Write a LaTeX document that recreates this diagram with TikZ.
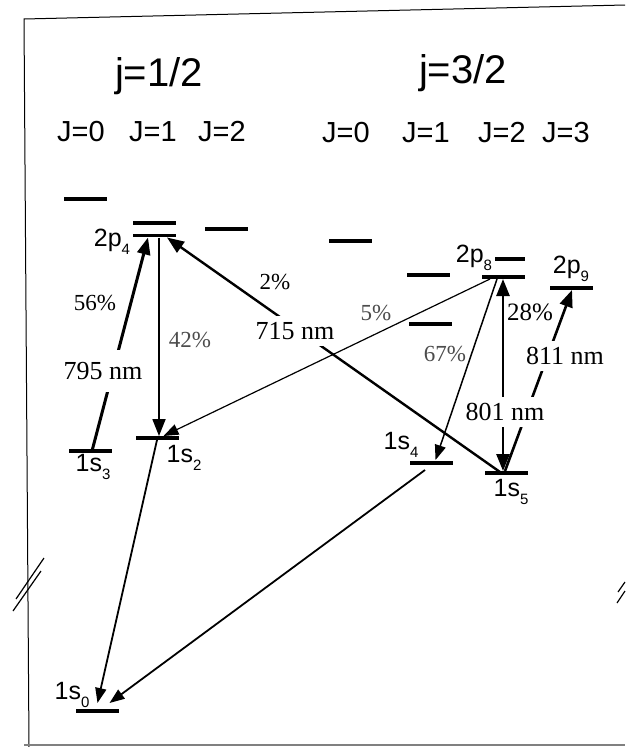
\documentclass[tikz,border=0pt]{standalone}
\usepackage{fontspec}
\setmainfont{Liberation Serif}
\setsansfont{Liberation Sans}
\usetikzlibrary{arrows.meta,calc}
\newcommand\lsub[1]{\raisebox{-0.3em}{\fontsize{15}{15}\selectfont #1}}
\begin{document}
\begin{tikzpicture}[x=1pt,y=-1pt,
  lvl/.style={fill=black, minimum width=43pt, minimum height=3.5pt, inner sep=0pt, outer sep=0pt},
  lbl/.style={font=\sffamily\fontsize{25}{25}\selectfont, inner sep=1pt},
  wl/.style={font=\rmfamily\fontsize{26}{26}\selectfont, fill=white, inner xsep=2pt, inner ysep=6pt},
  pct/.style={font=\rmfamily\fontsize{23}{23}\selectfont, inner sep=1pt},
  hd/.style={font=\sffamily\fontsize{40}{40}\selectfont, anchor=base},
  jl/.style={font=\sffamily\fontsize{29}{29}\selectfont, anchor=base},
  tr/.style={-{Triangle[length=17pt,width=13pt]}},
  trs/.style={-{Triangle[length=15pt,width=11pt]}}]
\useasboundingbox (0,0) rectangle (625,747);
% frame
\draw[line width=1pt] (29,747) -- (24,19) -- (625,5);
\draw[black!50, line width=1.5pt] (24,745) -- (625,745);
\draw[line width=1.2pt] (13,611) -- (41,571) (16,599) -- (44,558);
\draw[line width=1.2pt] (617,603) -- (625,591) (618,592) -- (625,582);
% headings
\node[hd] (h1) at (159,86) {j=1/2};
\node[hd] (h2) at (463,83) {j=3/2};
\node[jl] (a0) at (81,141) {J=0};
\node[jl] (a1) at (153,141) {J=1};
\node[jl] (a2) at (222,141) {J=2};
\node[jl] (b0) at (346,142) {J=0};
\node[jl] (b1) at (426,142) {J=1};
\node[jl] (b2) at (502,142) {J=2};
\node[jl] (b3) at (566,142) {J=3};
% levels
\node[lvl] (A) at (85,199) {};
\node[lvl] (B) at (154.5,223) {};
\node[lvl] (p4) at (154.5,235.5) {};
\node[lvl] (C) at (226,229) {};
\node[lvl] (D) at (350,241) {};
\node[lvl] (E) at (428.5,275) {};
\node[lvl, minimum width=30pt] (F) at (510,259) {};
\node[lvl] (p8) at (503.5,277) {};
\node[lvl] (p9) at (571,288) {};
\node[lvl] (G) at (430,324) {};
\node[lvl] (s4) at (431.5,463) {};
\node[lvl] (s5) at (506,473) {};
\node[lvl] (s3) at (90,451) {};
\node[lvl] (s2) at (157.5,438) {};
\node[lvl] (s0) at (97.5,711) {};
% transitions
\draw[tr, line width=3pt] ($(s3)+(2,0)$) -- ($(p4)+(-6.5,2)$);
\draw[tr, line width=1.8pt] ($(p4)+(4.5,2)$) -- ($(s2)+(1.5,-2)$);
\draw[tr, line width=2.4pt] ($(s5)+(-6,-1)$) -- ($(p4)+(12.5,2)$);
\draw[trs, line width=1.2pt] ($(p8)+(-13.5,2)$) -- ($(s2)+(6,-2)$);
\draw[trs, line width=1.5pt] ($(p8)+(-6.5,2)$) -- ($(s4)+(4,-3)$);
\draw[{Triangle[length=17pt,width=13pt]}-{Triangle[length=17pt,width=13pt]}, line width=2.6pt] ($(s5)+(-3,-2)$) -- ($(p8)+(-0.5,2)$);
\draw[tr, line width=2.6pt] ($(s5)+(-1,-2)$) -- ($(p9)+(1,2)$);
\draw[trs, line width=1.8pt] ($(s2)+(-0.5,2)$) -- ($(s0)+(0,-8)$);
\draw[trs, line width=1.8pt] ($(s4)+(-6.5,7)$) -- ($(s0)+(12,-8)$);
% wavelength labels
\node[wl, inner ysep=12pt] (l795) at (103,371) {795 nm};
\node[wl] (l715) at (295,331) {715 nm};
\node[wl] (l801) at (505,412) {801 nm};
\node[wl] (l811) at (565,356) {811 nm};
% branching ratios
\node[pct] (r56) at (95,303) {56\%};
\node[pct, black!70] (r42) at (190,340) {42\%};
\node[pct] (r2) at (275,282) {2\%};
\node[pct, black!70] (r5) at (376,313) {5\%};
\node[pct, black!70] (r67) at (445,354) {67\%};
\node[pct, font=\rmfamily\fontsize{25}{25}\selectfont] (r28) at (530,312) {28\%};
% level names
\node[lbl] (n2p4) at (112,242) {2p\lsub{4}};
\node[lbl, fill=white] (n2p8) at (474,258) {2p\lsub{8}};
\node[lbl] (n2p9) at (571,269) {2p\lsub{9}};
\node[lbl] (n1s4) at (401,445) {1s\lsub{4}};
\node[lbl] (n1s5) at (511,492) {1s\lsub{5}};
\node[lbl] (n1s3) at (93,467) {1s\lsub{3}};
\node[lbl] (n1s2) at (184,458) {1s\lsub{2}};
\node[lbl] (n1s0) at (72,695) {1s\lsub{0}};
\end{tikzpicture}
\end{document}
